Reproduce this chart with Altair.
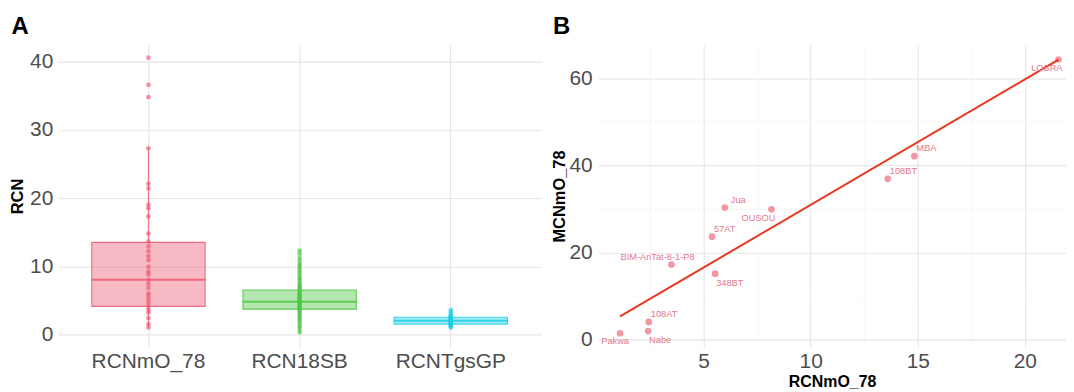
import altair as alt
import pandas as pd

# ---------------- Panel A data ----------------
groups = ["RCNmO_78", "RCN18SB", "RCNTgsGP"]
group_colors = ["#EC5870", "#4CC443", "#22CCE6"]

# box statistics: lower whisker, Q1, median, Q3, upper whisker
box_low = [1.0, 0.3, 1.0]
box_q1 = [4.1, 3.7, 1.5]
box_median = [8.0, 4.8, 2.0]
box_q3 = [13.5, 6.5, 2.5]
box_high = [27.3, 10.5, 3.5]

pts_rcnmo = [40.6, 36.6, 34.8, 27.3, 22.1, 21.4, 19.0, 18.5, 17.3, 14.8, 13.6,
             12.9, 12.2, 11.5, 10.9, 9.9, 9.2, 8.8, 8.0, 7.4, 6.8, 6.0, 5.6,
             5.1, 4.6, 4.1, 3.6, 3.2, 2.4, 1.5, 1.0]
pts_rcn18 = [12.3, 11.8, 11.2, 10.8, 10.3, 9.9, 9.5, 9.1, 8.7, 8.3, 8.0, 7.6,
             7.3, 7.0, 6.8, 6.5, 6.2, 6.0, 5.8, 5.6, 5.4, 5.2, 5.0, 4.9, 4.8,
             4.7, 4.5, 4.3, 4.1, 3.9, 3.7, 3.5, 3.2, 2.9, 2.6, 2.3, 2.0, 1.6,
             1.2, 0.8, 0.3]
pts_rcntgs = [3.6, 3.3, 3.0, 2.8, 2.6, 2.5, 2.4, 2.3, 2.2, 2.1, 2.0, 1.9, 1.8,
              1.7, 1.6, 1.5, 1.4, 1.3, 1.1, 1.0]

# ---------------- Panel B data ----------------
strains = ["LOSRA", "MBA", "108BT", "Jua", "OUSOU", "57AT", "BIM-AnTat-8-1-P8",
           "348BT", "108AT", "Nabe", "Pakwa"]
rcnmo_x = [21.57, 14.84, 13.6, 5.99, 8.17, 5.39, 3.5, 5.54, 2.44, 2.41, 1.1]
mcnmo_y = [64.3, 42.1, 36.9, 30.3, 29.9, 23.6, 17.2, 15.1, 4.0, 1.9, 1.4]

# ---------------- tables ----------------
stats = pd.DataFrame({
    "group": groups, "low": box_low, "q1": box_q1, "median": box_median,
    "q3": box_q3, "high": box_high,
})
points = pd.DataFrame({
    "group": [groups[0]] * len(pts_rcnmo) + [groups[1]] * len(pts_rcn18)
    + [groups[2]] * len(pts_rcntgs),
    "value": pts_rcnmo + pts_rcn18 + pts_rcntgs,
})
scatter = pd.DataFrame({"strain": strains, "x": rcnmo_x, "y": mcnmo_y})

FONT = "Liberation Sans"
MAJOR = "#E6E6E6"
MINOR = "#F3F3F3"
LBL = 21
TTL = 16.5


def grid_color(step):
    return {"condition": {"test": f"abs(datum.value % {step}) < 1e-9", "value": MAJOR},
            "value": MINOR}


def grid_width(step):
    return {"condition": {"test": f"abs(datum.value % {step}) < 1e-9", "value": 1.1},
            "value": 0.7}


def label_expr(step):
    return f"abs(datum.value % {step}) < 1e-9 ? datum.label : ''"


color_scale = alt.Scale(domain=groups, range=group_colors)
x_a = alt.X("group:N", sort=groups, title=None,
            scale=alt.Scale(paddingInner=0.25, paddingOuter=0.225),
            axis=alt.Axis(labelAngle=0, labelFontSize=LBL, labelPadding=3,
                          grid=True, gridColor=MAJOR, gridWidth=1.1))
y_scale_a = alt.Scale(domain=[-1.9, 42.5], nice=False, zero=False)
y_axis_a = alt.Axis(values=[0, 5, 10, 15, 20, 25, 30, 35, 40],
                    labelExpr=label_expr(10), gridColor=grid_color(10),
                    gridWidth=grid_width(10), labelFontSize=LBL, labelPadding=5,
                    titleFontSize=TTL, titlePadding=4)

WA, HA = 486, 304
BAND = WA / 3.2 * 0.75

base_stats = alt.Chart(stats)
whisk_hi = base_stats.mark_rule(strokeWidth=1.2, opacity=0.8).encode(
    x=x_a, y=alt.Y("q3:Q", scale=y_scale_a, axis=y_axis_a, title="RCN"),
    y2="high:Q", color=alt.Color("group:N", scale=color_scale, legend=None))
whisk_lo = base_stats.mark_rule(strokeWidth=1.2, opacity=0.8).encode(
    x=x_a, y=alt.Y("low:Q", scale=y_scale_a), y2="q1:Q",
    color=alt.Color("group:N", scale=color_scale, legend=None))
boxes = base_stats.mark_bar(fillOpacity=0.42, strokeWidth=1.1, strokeOpacity=0.85).encode(
    x=x_a, y=alt.Y("q1:Q", scale=y_scale_a), y2="q3:Q",
    color=alt.Color("group:N", scale=color_scale, legend=None),
    stroke=alt.Stroke("group:N", scale=color_scale, legend=None))
medians = base_stats.mark_tick(size=BAND, thickness=2, opacity=0.85).encode(
    x=x_a, y=alt.Y("median:Q", scale=y_scale_a),
    color=alt.Color("group:N", scale=color_scale, legend=None))
dots = alt.Chart(points).mark_circle(size=22, opacity=0.65).encode(
    x=x_a, y=alt.Y("value:Q", scale=y_scale_a),
    color=alt.Color("group:N", scale=color_scale, legend=None))

panel_a = alt.layer(boxes, whisk_hi, whisk_lo, medians, dots).properties(
    width=WA, height=HA,
    title=alt.TitleParams("A", anchor="start", fontSize=24, fontWeight="bold",
                          color="black", font=FONT, offset=6, dx=2))

# ---------------- Panel B ----------------
WB, HB = 470, 304
x_scale_b = alt.Scale(domain=[0.08, 21.92], nice=False, zero=False)
y_scale_b = alt.Scale(domain=[-1.83, 67.7], nice=False, zero=False)
x_axis_b = alt.Axis(values=[2.5, 5, 7.5, 10, 12.5, 15, 17.5, 20],
                    labelExpr=label_expr(5), gridColor=grid_color(5),
                    gridWidth=grid_width(5), labelFontSize=LBL, labelPadding=3,
                    titleFontSize=16, titlePadding=2)
y_axis_b = alt.Axis(values=[0, 10, 20, 30, 40, 50, 60],
                    labelExpr=label_expr(20), gridColor=grid_color(20),
                    gridWidth=grid_width(20), labelFontSize=LBL, labelPadding=6,
                    titleFontSize=TTL, titlePadding=2)

sb = alt.Chart(scatter)
pts_b = sb.mark_circle(size=45, color="#F08C96", opacity=0.9).encode(
    x=alt.X("x:Q", scale=x_scale_b, axis=x_axis_b, title="RCNmO_78"),
    y=alt.Y("y:Q", scale=y_scale_b, axis=y_axis_b, title="MCNmO_78"))
fit = sb.transform_regression("x", "y").mark_line(color="#E8361E", strokeWidth=2).encode(
    x=alt.X("x:Q", scale=x_scale_b), y=alt.Y("y:Q", scale=y_scale_b))


def labels(names, **kw):
    return sb.transform_filter(
        alt.FieldOneOfPredicate(field="strain", oneOf=names)
    ).mark_text(fontSize=9.3, color="#E4788C", font=FONT, **kw).encode(
        x=alt.X("x:Q", scale=x_scale_b), y=alt.Y("y:Q", scale=y_scale_b),
        text="strain:N")


lab_ur = labels(["MBA", "108BT", "57AT", "108AT"], align="left", dx=2, dy=-8)
lab_jua = labels(["Jua"], align="left", dx=6, dy=-8)
lab_lr = labels(["348BT", "Nabe"], align="left", dx=1, dy=9)
lab_ll = labels(["LOSRA", "OUSOU"], align="right", dx=4, dy=9)
lab_uc = labels(["BIM-AnTat-8-1-P8"], align="center", dx=-14, dy=-8)
lab_lc = labels(["Pakwa"], align="center", dx=-5, dy=8)

panel_b = alt.layer(pts_b, fit, lab_ur, lab_jua, lab_lr, lab_ll, lab_uc, lab_lc).properties(
    width=WB, height=HB,
    title=alt.TitleParams("B", anchor="start", fontSize=24, fontWeight="bold",
                          color="black", font=FONT, offset=6, dx=2))

chart = alt.hconcat(panel_a, panel_b, spacing=9).properties(
    padding={"left": 1, "top": 6, "right": 0, "bottom": 0}
).configure(font=FONT).configure_view(stroke=None).configure_axis(
    domain=False, ticks=False, labelColor="#4D4D4D", labelFont=FONT,
    titleFont=FONT, titleFontWeight="bold", titleColor="black")

chart.save("out.html", embed_options={"renderer": "svg", "actions": False})
